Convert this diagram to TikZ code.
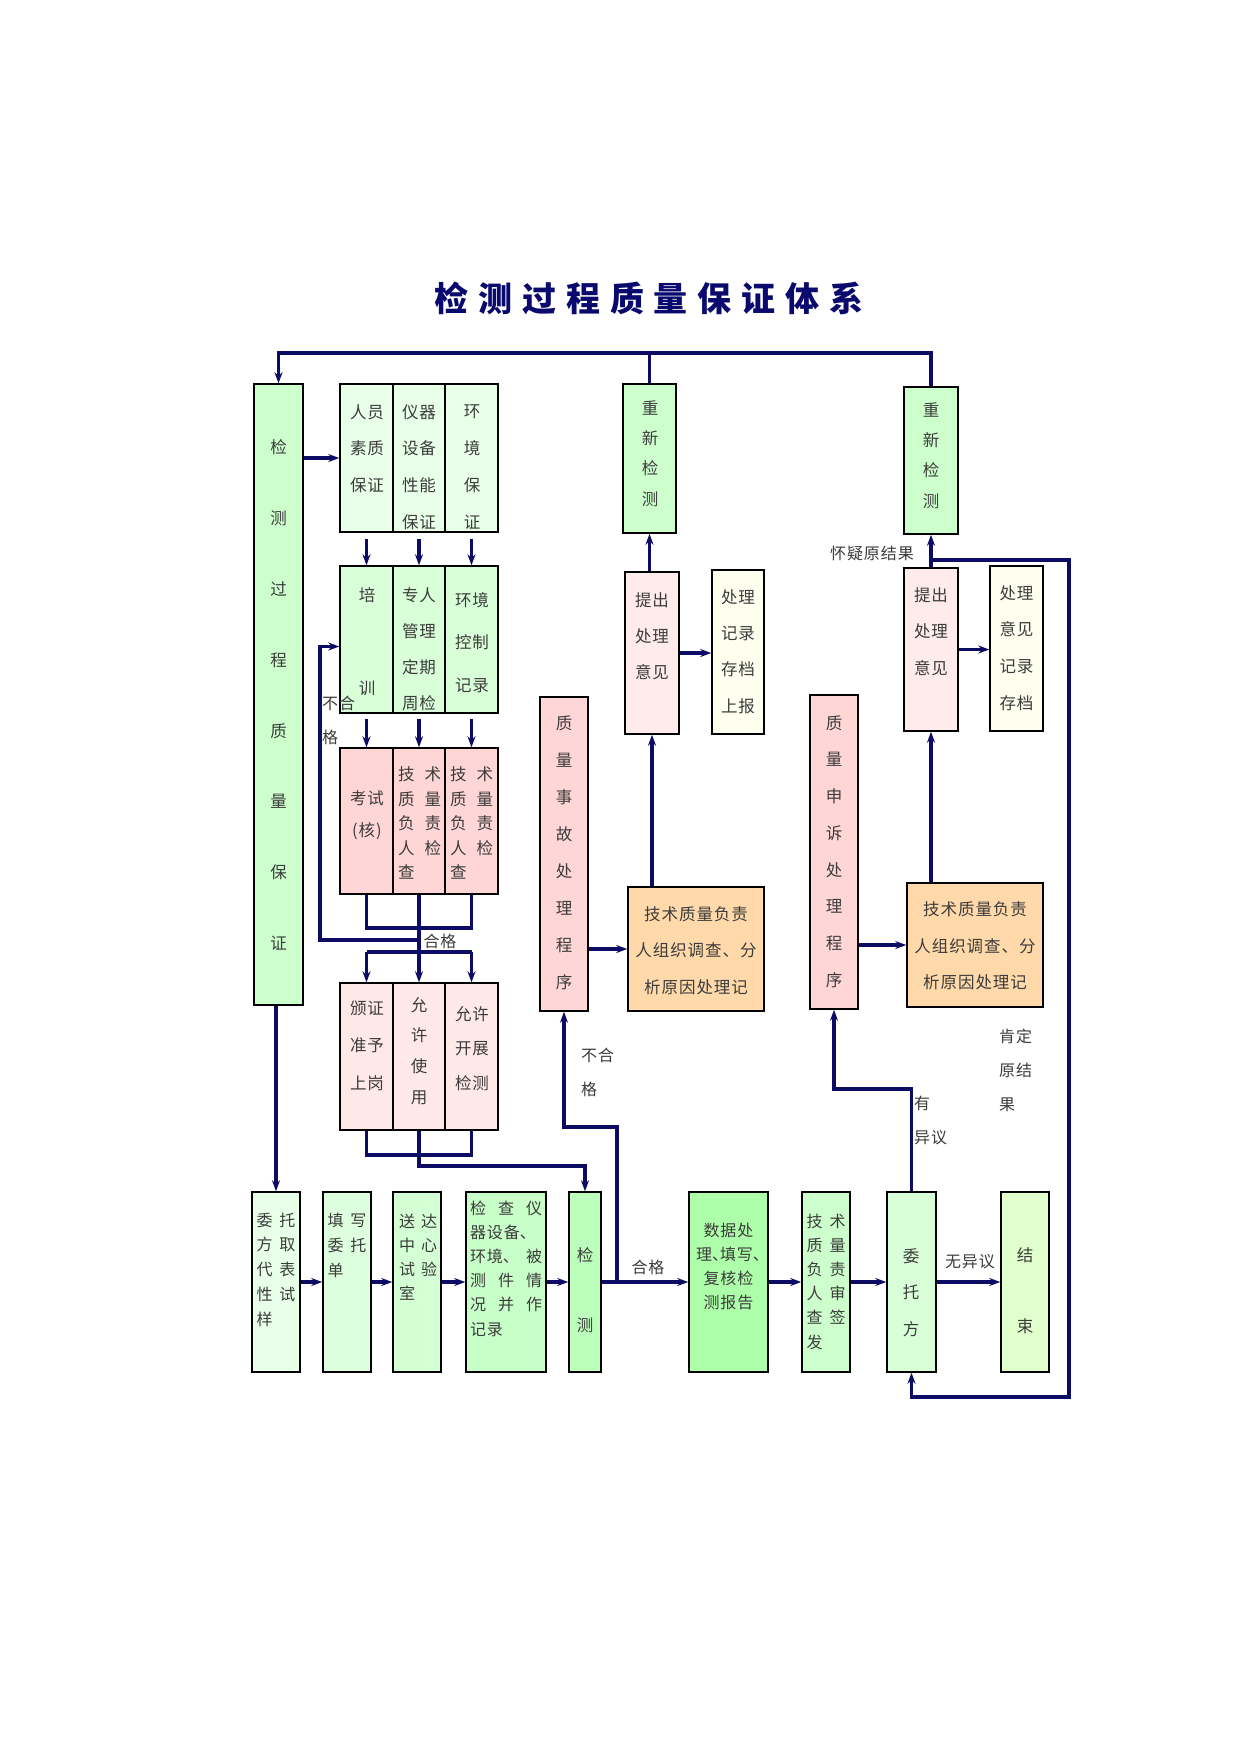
\documentclass[tikz,border=0pt]{standalone}
\usepackage{fontspec}
\usetikzlibrary{calc,arrows.meta}
\newfontfamily\cjk{Noto Sans CJK SC}[LetterSpace=6]
\newfontfamily\titlefont{Noto Sans CJK SC}[LetterSpace=29]
\def\pair#1#2#3{\makebox[#1]{#2\hfill#3}}
\def\dun{\makebox[8pt][l]{、}}
\definecolor{navy}{RGB}{12,12,100}
\definecolor{ink}{RGB}{60,60,60}
\definecolor{titleblue}{RGB}{10,10,110}
\definecolor{gA}{RGB}{204,255,204}
\definecolor{gOne}{RGB}{232,255,232}
\definecolor{gTwo}{RGB}{216,255,216}
\definecolor{pinkA}{RGB}{255,214,214}
\definecolor{pinkB}{RGB}{255,232,232}
\definecolor{pinkC}{RGB}{255,234,236}
\definecolor{ivory}{RGB}{255,255,240}
\definecolor{peach}{RGB}{255,217,170}
\definecolor{cA}{RGB}{232,255,232}
\definecolor{cB}{RGB}{222,255,222}
\definecolor{cC}{RGB}{212,255,212}
\definecolor{cD}{RGB}{200,255,200}
\definecolor{cE}{RGB}{188,255,188}
\definecolor{cF}{RGB}{174,255,170}
\definecolor{cI}{RGB}{224,255,204}
\tikzset{
  bx/.style={draw=black, line width=1.5pt, inner sep=0pt, rectangle},
  tx/.style={text=ink, inner sep=0pt, align=center, font=\cjk\fontsize{16.5pt}{#1pt}\selectfont},
  tx/.default=36,
  sx/.style={text=ink, inner sep=0pt, align=left, font=\cjk\fontsize{16pt}{#1pt}\selectfont},
  sx/.default=24.5,
  lb/.style={text=ink, inner sep=0pt, font=\cjk\fontsize{16pt}{34pt}\selectfont},
  conn/.style={draw=navy, line width=3.6pt},
  arr/.style={conn, -{Stealth[length=11pt,width=8pt]}},
}

\begin{document}
\begin{tikzpicture}[x=1pt,y=-1pt]
		%%%%% PAGE %%%%%
		\fill[white] (0,0) rectangle (1241,1754);
		
		\node[text=titleblue, inner sep=0pt, font=\titlefont\bfseries\fontsize{34pt}{40pt}\selectfont] (title) at (649,298) {检测过程质量保证体系};
		
		%%%%% LEFT COLUMN %%%%%
		\node[bx, fill=gA, minimum width=49pt, minimum height=621pt] (ld) at (278.5,694.5) {};
		\node[tx=70.9] (ld-t) at (278.5,695) {检\\测\\过\\程\\质\\量\\保\\证};
		
		\node[bx, fill=gOne, minimum width=53pt, minimum height=148pt] (g1a) at (366.5,458) {};
		\node[bx, fill=gOne, minimum width=52pt, minimum height=148pt] (g1b) at (419,458) {};
		\node[bx, fill=gOne, minimum width=53pt, minimum height=148pt] (g1c) at (471.5,458) {};
		\node[tx=36.5] (g1a-t) at (367,448.5) {人员\\素质\\保证};
		\node[tx=36.7] (g1b-t) at (419,467) {仪器\\设备\\性能\\保证};
		\node[tx=36.7] (g1c-t) at (472,467) {环\\境\\保\\证};
		
		\node[bx, fill=gTwo, minimum width=53pt, minimum height=147pt] (g2a) at (366.5,639.5) {};
		\node[bx, fill=gTwo, minimum width=52pt, minimum height=147pt] (g2b) at (419,639.5) {};
		\node[bx, fill=gTwo, minimum width=53pt, minimum height=147pt] (g2c) at (471.5,639.5) {};
		\node[tx=93] (g2a-t) at (367,641.5) {培\\训};
		\node[tx=36] (g2b-t) at (419,649) {专人\\管理\\定期\\周检};
		\node[tx=42.5] (g2c-t) at (472,642.5) {环境\\控制\\记录};
		
		\node[bx, fill=pinkA, minimum width=53pt, minimum height=146pt] (g3a) at (366.5,821) {};
		\node[bx, fill=pinkA, minimum width=52pt, minimum height=146pt] (g3b) at (419,821) {};
		\node[bx, fill=pinkA, minimum width=53pt, minimum height=146pt] (g3c) at (471.5,821) {};
		\node[tx=32] (g3a-t) at (367,815) {考试\\(核)};
		\node[tx=24.5, align=left] (g3b-t) at (419.5,823) {\pair{43pt}{技}{术}\\\pair{43pt}{质}{量}\\\pair{43pt}{负}{责}\\\pair{43pt}{人}{检}\\查};
		\node[tx=24.5, align=left] (g3c-t) at (471.5,823) {\pair{43pt}{技}{术}\\\pair{43pt}{质}{量}\\\pair{43pt}{负}{责}\\\pair{43pt}{人}{检}\\查};
		
		\node[bx, fill=pinkB, minimum width=53pt, minimum height=147pt] (g4a) at (366.5,1056.5) {};
		\node[bx, fill=pinkB, minimum width=52pt, minimum height=147pt] (g4b) at (419,1056.5) {};
		\node[bx, fill=pinkB, minimum width=53pt, minimum height=147pt] (g4c) at (471.5,1056.5) {};
		\node[tx=37.5] (g4a-t) at (367,1045.5) {颁证\\准予\\上岗};
		\node[tx=30.7] (g4b-t) at (419,1051) {允\\许\\使\\用};
		\node[tx=34.5] (g4c-t) at (472,1048.5) {允许\\开展\\检测};
		
		%%%%% MIDDLE AND RIGHT %%%%%
		\node[bx, fill=gA, minimum width=53pt, minimum height=149pt] (rc1) at (649.5,458.5) {};
		\node[tx=30.3] (rc1-t) at (650,453.5) {重\\新\\检\\测};
		\node[bx, fill=gA, minimum width=54pt, minimum height=147pt] (rc2) at (931,460.5) {};
		\node[tx=30.3] (rc2-t) at (931,455.5) {重\\新\\检\\测};
		
		\node[bx, fill=pinkC, minimum width=54pt, minimum height=162pt] (tc1) at (652,653) {};
		\node[tx=36] (tc1-t) at (652,636) {提出\\处理\\意见};
		\node[bx, fill=ivory, minimum width=52pt, minimum height=164pt] (jl1) at (738,652) {};
		\node[tx=36.3] (jl1-t) at (738,651.5) {处理\\记录\\存档\\上报};
		\node[bx, fill=pinkC, minimum width=54pt, minimum height=163pt] (tc2) at (931,649.5) {};
		\node[tx=36.5] (tc2-t) at (931,631.5) {提出\\处理\\意见};
		\node[bx, fill=ivory, minimum width=53pt, minimum height=165pt] (jl2) at (1016.5,648.5) {};
		\node[tx=36.7] (jl2-t) at (1016.5,648) {处理\\意见\\记录\\存档};
		
		\node[bx, fill=pinkA, minimum width=48pt, minimum height=314pt] (sg) at (564,854) {};
		\node[tx=37] (sg-t) at (564,852.5) {质\\量\\事\\故\\处\\理\\程\\序};
		\node[bx, fill=pinkA, minimum width=48pt, minimum height=314pt] (ss) at (834,852) {};
		\node[tx=36.7] (ss-t) at (834,851.5) {质\\量\\申\\诉\\处\\理\\程\\序};
		
		\node[bx, fill=peach, minimum width=136pt, minimum height=124pt] (jf1) at (696,949) {};
		\node[tx=36.5] (jf1-t) at (696,950.5) {技术质量负责\\人组织调查、分\\析原因处理记};
		\node[bx, fill=peach, minimum width=136pt, minimum height=124pt] (jf2) at (975,945) {};
		\node[tx=36.5] (jf2-t) at (975,946) {技术质量负责\\人组织调查、分\\析原因处理记};
		
		%%%%% BOTTOM ROW %%%%%
		\node[bx, fill=cA, minimum width=48pt, minimum height=180pt] (qyang) at (276,1282) {};
		\node[sx=24.75] (qyang-t) at (276,1269.5) {\pair{39pt}{委}{托}\\\pair{39pt}{方}{取}\\\pair{39pt}{代}{表}\\\pair{39pt}{性}{试}\\样};
		\node[bx, fill=cB, minimum width=48pt, minimum height=180pt] (txie) at (347,1282) {};
		\node[sx=25] (txie-t) at (347,1245) {\pair{39pt}{填}{写}\\\pair{39pt}{委}{托}\\单};
		\node[bx, fill=cC, minimum width=48pt, minimum height=180pt] (sda) at (417,1282) {};
		\node[sx=24] (sda-t) at (418,1257) {\pair{38pt}{送}{达}\\\pair{38pt}{中}{心}\\\pair{38pt}{试}{验}\\室};
		\node[bx, fill=cD, minimum width=80pt, minimum height=180pt] (jcha) at (506,1282) {};
		\node[sx=24.2] (jcha-t) at (506,1268.5) {\makebox[72pt]{检\hfill 查\hfill 仪}\\器设备\dun\\\makebox[72pt]{环境\dun\hfill 被}\\\makebox[72pt]{测\hfill 件\hfill 情}\\\makebox[72pt]{况\hfill 并\hfill 作}\\记录};
		\node[bx, fill=cE, minimum width=32pt, minimum height=180pt] (jce) at (585,1282) {};
		\node[tx=70] (jce-t) at (585,1290) {检\\测};
		\node[bx, fill=cF, minimum width=79pt, minimum height=180pt] (sju) at (728.5,1282) {};
		\node[sx=24, align=center] (sju-t) at (728.5,1266) {数据处\\理\dun 填写\dun\\复核检\\测报告};
		\node[bx, fill=gA, minimum width=48pt, minimum height=180pt] (qfa) at (826,1282) {};
		\node[sx=24.2] (qfa-t) at (826,1281.5) {\pair{39pt}{技}{术}\\\pair{39pt}{质}{量}\\\pair{39pt}{负}{责}\\\pair{39pt}{人}{审}\\\pair{39pt}{查}{签}\\发};
		\node[bx, fill=gTwo, minimum width=49pt, minimum height=180pt] (wtf) at (911.5,1282) {};
		\node[tx=36.5] (wtf-t) at (911,1292.5) {委\\托\\方};
		\node[bx, fill=cI, minimum width=48pt, minimum height=180pt] (jshu) at (1025,1282) {};
		\node[tx=71] (jshu-t) at (1025,1290.5) {结\\束};
		
		%%%%% LABELS %%%%%
		\node[lb, align=left, anchor=west] (nq1) at (322,720) {不合\\格};
		\node[lb] (hg1) at (440,941) {合格};
		\node[lb, align=left, anchor=west] (nq2) at (581,1072) {不合\\格};
		\node[lb, align=left, anchor=west] (yyy) at (914,1120.5) {有\\异议};
		\node[lb, align=left, anchor=west] (kd) at (999,1070.5) {肯定\\原结\\果};
		\node[lb] (hy) at (872,553) {怀疑原结果};
		\node[lb] (hg2) at (648,1267) {合格};
		\node[lb] (wyy) at (970,1262) {无异议};
		
		%%%%% CONNECTORS %%%%%
		\coordinate (top) at (0,353);
		\draw[arr] (rc2.north) |- (top -| ld.north) -- (ld.north);
		\draw[conn] (rc1.north) -- (rc1.north |- top);
		\draw[arr] (ld.east |- g1a.west) -- (g1a.west);
		\foreach \c in {a,b,c}
		{
			\draw[arr, shorten <=6pt] (g1\c.south) -- (g2\c.north);
			\draw[arr, shorten <=5pt] (g2\c.south) -- (g3\c.north);
		}
		
		\coordinate (lp3) at (0,928);
		\draw[conn] (g3a.south) -- (g3a.south |- lp3) -- (g3c.south |- lp3) -- (g3c.south);
		\draw[arr] (g3b.south) -- (g4b.north);
		\coordinate (nq) at (320,940);
		\draw[arr] (g3b.south |- nq) -- (nq) |- ($(g2a.west)+(0,7)$);
		\coordinate (fen) at (0,952);
		\draw[conn] (g4a.north |- fen) -- (g4c.north |- fen);
		\draw[arr] (g4a.north |- fen) -- (g4a.north);
		\draw[arr] (g4c.north |- fen) -- (g4c.north);
		
		\coordinate (lp4) at (0,1155);
		\draw[conn] (g4a.south) -- (g4a.south |- lp4) -- (g4c.south |- lp4) -- (g4c.south);
		\coordinate (to4) at (0,1166);
		\draw[arr] (g4b.south) -- (g4b.south |- to4) -| (jce.north);
		
		\draw[arr] (ld.south -| qyang.north) -- (qyang.north);
		\foreach \a/\b in {qyang/txie, txie/sda, sda/jcha, jcha/jce, jce/sju, sju/qfa, qfa/wtf, wtf/jshu}
			\draw[arr] (\a.east) -- (\b.west);
		
		\coordinate (jn) at (617,1282);
		\draw[arr] (jn) -- ++(0,-155) -| (sg.south);
		\draw[arr] (sg.east |- jf1.west) -- (jf1.west);
		\draw[arr] (jf1.north -| tc1.south) -- (tc1.south);
		\draw[arr] (tc1.north -| rc1.south) -- (rc1.south);
		\draw[arr] (tc1.east) -- (tc1.east -| jl1.west);
		
		\draw[arr] (ss.east |- jf2.west) -- (jf2.west);
		\draw[arr] (jf2.north -| tc2.south) -- (tc2.south);
		\draw[arr] (tc2.north) -- (rc2.south);
		\draw[arr] (tc2.east) -- (tc2.east -| jl2.west);
		\coordinate (kr) at (1069,560);
		\coordinate (kb) at (1069,1397);
		\draw[arr] (tc2.north |- kr) -- (kr) -- (kb) -| (wtf.south);
		\coordinate (yy) at (0,1089);
		\draw[arr] (wtf.north) -- (wtf.north |- yy) -| (ss.south);
		
		%%%%% END %%%%%
	\end{tikzpicture}
\end{document}
